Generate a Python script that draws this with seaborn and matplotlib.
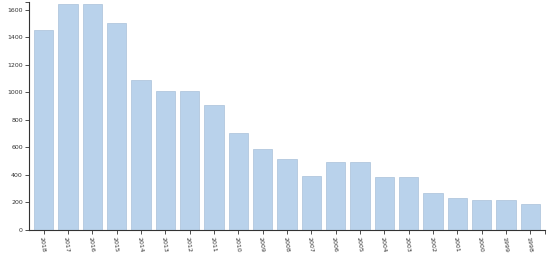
import pandas as pd
import numpy as np
import seaborn as sns
import matplotlib.pyplot as plt

years = ["2018", "2017", "2016", "2015", "2014", "2013", "2012", "2011", "2010", "2009",
         "2008", "2007", "2006", "2005", "2004", "2003", "2002", "2001", "2000", "1999", "1998"]
counts = [1452, 1641, 1641, 1503, 1091, 1011, 1011, 907, 708, 589,
          519, 393, 495, 495, 388, 388, 267, 230, 216, 218, 189]

df = pd.DataFrame({"year": years, "count": counts})

sns.set_style("white")
plt.rcParams['font.family'] = ['DejaVu Sans']

fig = plt.figure(figsize=(5.5, 2.61), dpi=100)
ax = fig.add_axes([29 / 550, 31 / 261, 516 / 550, 228 / 261])

sns.barplot(data=df, x="year", y="count", color="#b9d2eb", saturation=1,
            width=0.8, edgecolor="#a9c1d9", linewidth=0.5, ax=ax)

ax.set_xlim(-0.6, len(years) - 0.4)
ax.set_ylim(0, 1658)
ax.set_yticks(np.arange(0, 1601, 200))
ax.set_xlabel("")
ax.set_ylabel("")
ax.tick_params(axis="both", length=3, width=0.6, color="#333333",
               labelsize=4.5, labelcolor="#333333", pad=1.5, left=True, bottom=True)
plt.setp(ax.get_xticklabels(), rotation=-82, ha="left", rotation_mode="anchor")
# outer ticks at the ends of the axes, like a d3 domain path
ax.set_yticks([1658], minor=True)
ax.set_xticks([len(years) - 0.4], minor=True)
ax.tick_params(which="minor", length=3, width=0.6, color="#333333", left=True, bottom=True)

for s in ["top", "right"]:
    ax.spines[s].set_visible(False)
for s in ["left", "bottom"]:
    ax.spines[s].set_color("#333333")
    ax.spines[s].set_linewidth(0.8)

fig.savefig("out.png", dpi=100)
